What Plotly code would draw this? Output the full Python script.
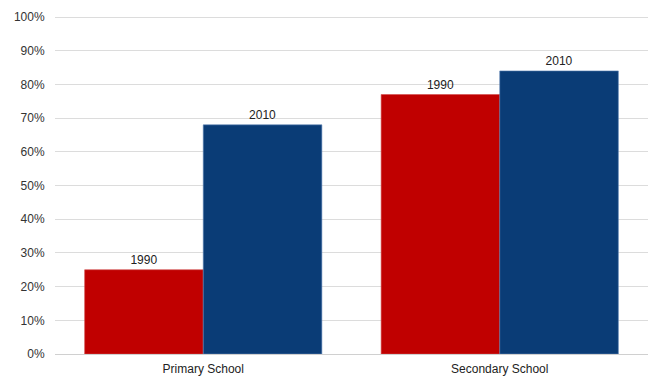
import plotly.graph_objects as go

# School enrolment share by level, 1990 vs 2010
categories = ["Primary School", "Secondary School"]
years = ["1990", "2010"]
values_1990 = [0.25, 0.77]
values_2010 = [0.68, 0.84]
colors = {"1990": "#c00000", "2010": "#0a3c76"}
edge_colors = {"1990": "#d24a4a", "2010": "#5a82b4"}

fig = go.Figure()
for year, vals in zip(years, [values_1990, values_2010]):
    fig.add_trace(go.Bar(
        name=year,
        x=categories,
        y=vals,
        marker=dict(color=colors[year], line=dict(color=edge_colors[year], width=0.6)),
        text=[year] * len(vals),
        textposition="outside",
        textfont=dict(family="Liberation Sans, Arial", size=12, color="#222222"),
        cliponaxis=False,
        hoverinfo="skip",
    ))

fig.update_layout(
    width=656,
    height=390,
    margin=dict(l=55, r=8, t=16, b=36),
    barmode="group",
    bargap=0.2,
    bargroupgap=0,
    showlegend=False,
    plot_bgcolor="white",
    paper_bgcolor="white",
    font=dict(family="Liberation Sans, Arial", size=12, color="#222222"),
)
fig.update_yaxes(
    range=[0, 1.003],
    dtick=0.1,
    tickformat=".0%",
    showgrid=True,
    gridcolor="#dcdcdc",
    gridwidth=1,
    zeroline=True,
    zerolinecolor="#d0d0d0",
    zerolinewidth=1,
    ticks="outside",
    ticklen=7,
    tickcolor="rgba(0,0,0,0)",
    showline=False,
    tickfont=dict(size=12, color="#333333"),
)
fig.update_xaxes(
    showgrid=False,
    showline=False,
    ticks="outside",
    ticklen=4,
    tickcolor="rgba(0,0,0,0)",
    tickfont=dict(size=12, color="#222222"),
)

fig.write_html("out.html")
